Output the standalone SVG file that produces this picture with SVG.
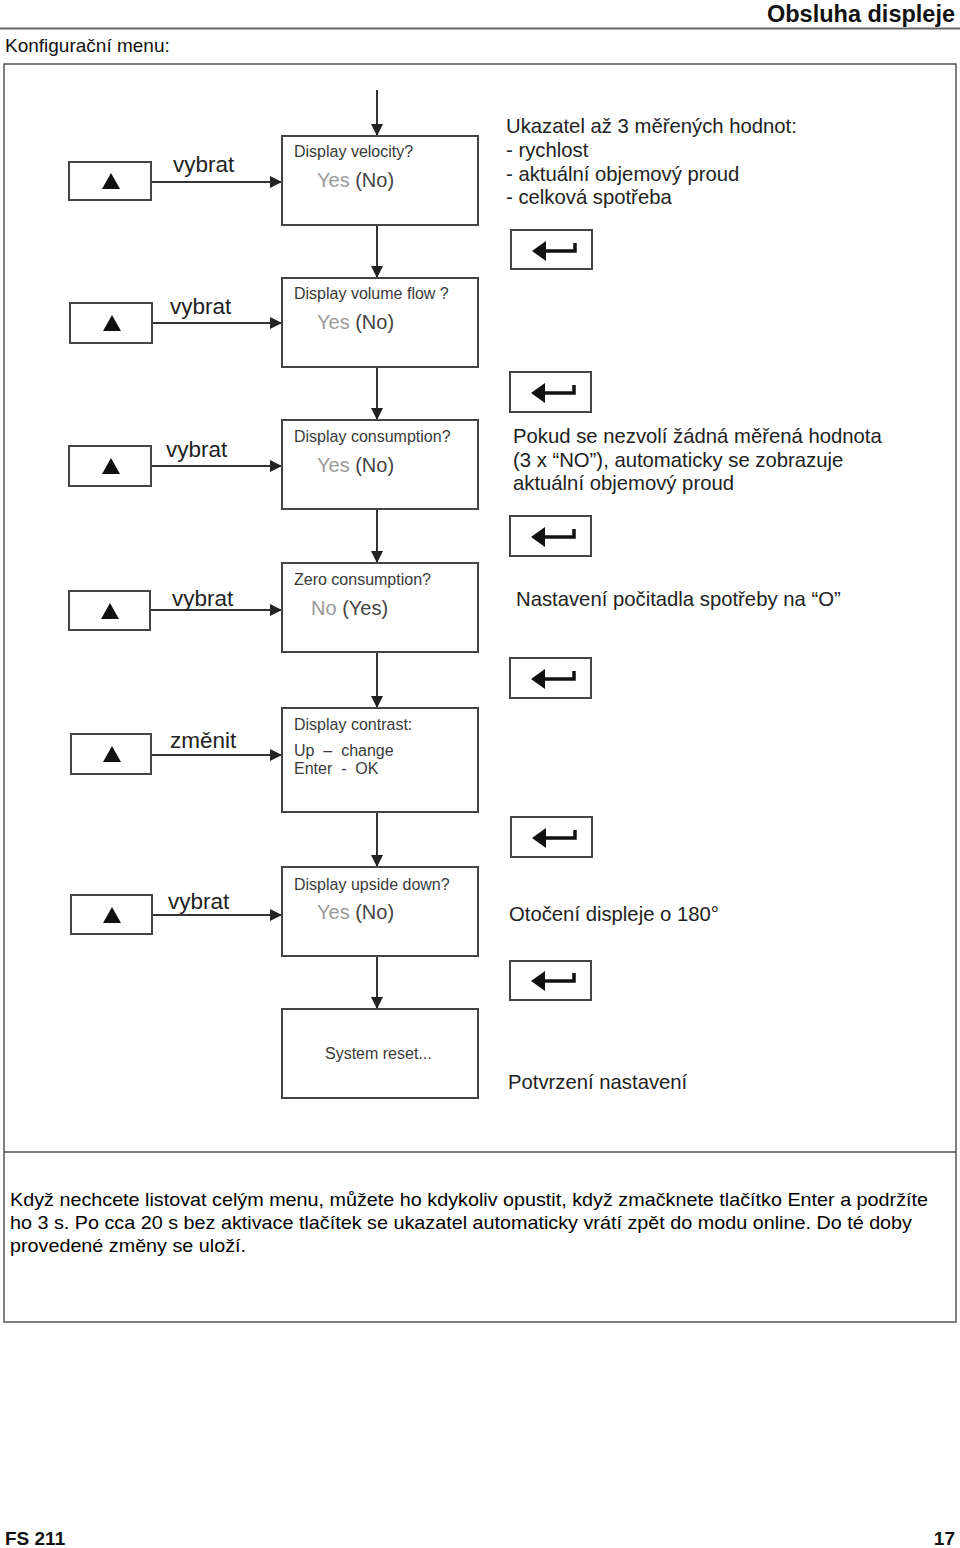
<svg xmlns="http://www.w3.org/2000/svg" width="960" height="1548" viewBox="0 0 960 1548">
<style>
text{font-family:"Liberation Sans",Arial,sans-serif}
.box{fill:#fff;stroke:#444;stroke-width:2}
.btn{fill:#fff;stroke:#444;stroke-width:2}
.conn{stroke:#333;stroke-width:2;fill:none}
.q{font-size:16px;fill:#3a3a3a}
.yes{font-size:20px;fill:#9a9a9a}
.no{font-size:20px;fill:#444}
.lbl{font-size:22.5px;fill:#222}
.note{font-size:20.3px;fill:#222}
.body{font-size:19px;fill:#000}
</style>
<defs>
<marker id="ah" viewBox="0 0 10 10" refX="10" refY="5" markerWidth="12" markerHeight="12" markerUnits="userSpaceOnUse" orient="auto">
<path d="M0,0 L10,5 L0,10 z" fill="#222"/>
</marker>
<symbol id="up" viewBox="0 0 20 20"><path d="M10,2 L19,18 L1,18 z" fill="#111"/></symbol>
<g id="enter">
<path d="M21,21 L35,11 L35,31 z" fill="#111"/>
<path d="M34,21 L64,21 L64,13" fill="none" stroke="#111" stroke-width="3.5"/>
</g>
</defs>

<text x="955" y="22" text-anchor="end" font-size="23.5" font-weight="bold" fill="#111">Obsluha displeje</text>
<line x1="0" y1="28.5" x2="960" y2="28.5" stroke="#666" stroke-width="2"/>
<text x="5" y="52" font-size="19" fill="#111">Konfigurační menu:</text>

<rect x="4" y="64" width="952" height="1258" fill="none" stroke="#555" stroke-width="1.5"/>
<line x1="4" y1="1152" x2="956" y2="1152" stroke="#555" stroke-width="1.5"/>

<g id="connectors">
<line class="conn" x1="377" y1="90" x2="377" y2="136" marker-end="url(#ah)"/>
<line class="conn" x1="377" y1="225" x2="377" y2="278" marker-end="url(#ah)"/>
<line class="conn" x1="377" y1="367" x2="377" y2="420" marker-end="url(#ah)"/>
<line class="conn" x1="377" y1="509" x2="377" y2="563" marker-end="url(#ah)"/>
<line class="conn" x1="377" y1="652" x2="377" y2="708" marker-end="url(#ah)"/>
<line class="conn" x1="377" y1="812" x2="377" y2="867" marker-end="url(#ah)"/>
<line class="conn" x1="377" y1="956" x2="377" y2="1009" marker-end="url(#ah)"/>
<line class="conn" x1="151" y1="182" x2="282" y2="182" marker-end="url(#ah)"/>
<line class="conn" x1="152" y1="323" x2="282" y2="323" marker-end="url(#ah)"/>
<line class="conn" x1="151" y1="466" x2="282" y2="466" marker-end="url(#ah)"/>
<line class="conn" x1="150" y1="610" x2="282" y2="610" marker-end="url(#ah)"/>
<line class="conn" x1="151" y1="755" x2="282" y2="755" marker-end="url(#ah)"/>
<line class="conn" x1="152" y1="915" x2="282" y2="915" marker-end="url(#ah)"/>
<text class="lbl" x="173" y="172">vybrat</text>
<text class="lbl" x="170" y="314">vybrat</text>
<text class="lbl" x="166" y="457">vybrat</text>
<text class="lbl" x="172" y="606">vybrat</text>
<text class="lbl" x="170" y="748">změnit</text>
<text class="lbl" x="168" y="909">vybrat</text>
</g>

<g id="btn-up-1"><rect class="btn" x="69" y="162" width="82" height="38"/><use href="#up" x="101" y="171" width="20" height="20"/></g>
<g id="btn-up-2"><rect class="btn" x="70" y="303" width="82" height="40"/><use href="#up" x="102" y="313" width="20" height="20"/></g>
<g id="btn-up-3"><rect class="btn" x="69" y="446" width="82" height="40"/><use href="#up" x="101" y="456" width="20" height="20"/></g>
<g id="btn-up-4"><rect class="btn" x="69" y="591" width="81" height="39"/><use href="#up" x="100" y="601" width="20" height="20"/></g>
<g id="btn-up-5"><rect class="btn" x="71" y="734" width="80" height="40"/><use href="#up" x="102" y="744" width="20" height="20"/></g>
<g id="btn-up-6"><rect class="btn" x="71" y="895" width="81" height="39"/><use href="#up" x="102" y="905" width="20" height="20"/></g>

<g id="node-velocity"><rect class="box" x="282" y="136" width="196" height="89"/>
<text class="q" x="294" y="157">Display velocity?</text>
<text x="317" y="187"><tspan class="yes">Yes</tspan><tspan class="no"> (No)</tspan></text></g>
<g id="node-volume"><rect class="box" x="282" y="278" width="196" height="89"/>
<text class="q" x="294" y="299">Display volume flow ?</text>
<text x="317" y="329"><tspan class="yes">Yes</tspan><tspan class="no"> (No)</tspan></text></g>
<g id="node-consumption"><rect class="box" x="282" y="420" width="196" height="89"/>
<text class="q" x="294" y="442">Display consumption?</text>
<text x="317" y="472"><tspan class="yes">Yes</tspan><tspan class="no"> (No)</tspan></text></g>
<g id="node-zero"><rect class="box" x="282" y="563" width="196" height="89"/>
<text class="q" x="294" y="585">Zero consumption?</text>
<text x="311" y="615"><tspan class="yes">No</tspan><tspan class="no"> (Yes)</tspan></text></g>
<g id="node-contrast"><rect class="box" x="282" y="708" width="196" height="104"/>
<text class="q" x="294" y="730">Display contrast:</text>
<text class="q" x="294" y="756" xml:space="preserve">Up  –  change</text>
<text class="q" x="294" y="774" xml:space="preserve">Enter  -  OK</text></g>
<g id="node-upside"><rect class="box" x="282" y="867" width="196" height="89"/>
<text class="q" x="294" y="890">Display upside down?</text>
<text x="317" y="919"><tspan class="yes">Yes</tspan><tspan class="no"> (No)</tspan></text></g>
<g id="node-reset"><rect class="box" x="282" y="1009" width="196" height="89"/>
<text class="q" x="325" y="1059">System reset...</text></g>

<g id="btn-enter-1"><rect class="btn" x="511" y="230" width="81" height="39"/><use href="#enter" x="511" y="230"/></g>
<g id="btn-enter-2"><rect class="btn" x="510" y="372" width="81" height="40"/><use href="#enter" x="510" y="372"/></g>
<g id="btn-enter-3"><rect class="btn" x="510" y="516" width="81" height="40"/><use href="#enter" x="510" y="516"/></g>
<g id="btn-enter-4"><rect class="btn" x="510" y="658" width="81" height="40"/><use href="#enter" x="510" y="658"/></g>
<g id="btn-enter-5"><rect class="btn" x="511" y="817" width="81" height="40"/><use href="#enter" x="511" y="817"/></g>
<g id="btn-enter-6"><rect class="btn" x="510" y="961" width="81" height="39"/><use href="#enter" x="510" y="960"/></g>

<g id="notes">
<text class="note" x="506" y="133">Ukazatel až 3 měřených hodnot:</text>
<text class="note" x="506" y="157">- rychlost</text>
<text class="note" x="506" y="181">- aktuální objemový proud</text>
<text class="note" x="506" y="204">- celková spotřeba</text>
<text class="note" x="513" y="443">Pokud se nezvolí žádná měřená hodnota</text>
<text class="note" x="513" y="467">(3 x “NO”), automaticky se zobrazuje</text>
<text class="note" x="513" y="490">aktuální objemový proud</text>
<text class="note" x="516" y="606">Nastavení počitadla spotřeby na “O”</text>
<text class="note" x="509" y="921">Otočení displeje o 180°</text>
<text class="note" x="508" y="1089">Potvrzení nastavení</text>
</g>

<g id="footnote">
<text class="body" x="10" y="1206" textLength="918" lengthAdjust="spacingAndGlyphs">Když nechcete listovat celým menu, můžete ho kdykoliv opustit, když zmačknete tlačítko Enter a podržíte</text>
<text class="body" x="10" y="1229" textLength="902" lengthAdjust="spacingAndGlyphs">ho 3 s. Po cca 20 s bez aktivace tlačítek se ukazatel automaticky vrátí zpět do modu online. Do té doby</text>
<text class="body" x="10" y="1252" textLength="236" lengthAdjust="spacingAndGlyphs">provedené změny se uloží.</text>
</g>

<text x="5" y="1545" font-size="19" font-weight="bold" fill="#111">FS 211</text>
<text x="955" y="1545" text-anchor="end" font-size="19" font-weight="bold" fill="#111">17</text>
</svg>
